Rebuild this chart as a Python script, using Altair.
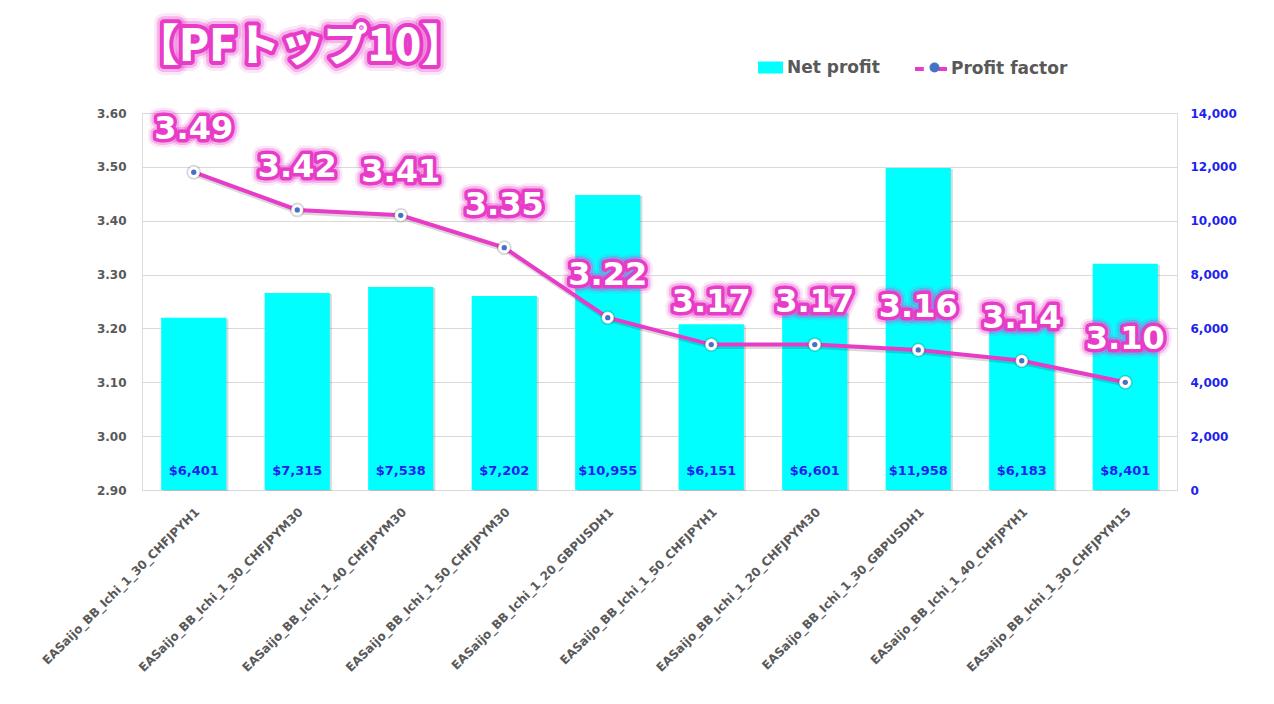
import altair as alt
import pandas as pd

strategies = [
    "EASaijo_BB_Ichi_1_30_CHFJPYH1",
    "EASaijo_BB_Ichi_1_30_CHFJPYM30",
    "EASaijo_BB_Ichi_1_40_CHFJPYM30",
    "EASaijo_BB_Ichi_1_50_CHFJPYM30",
    "EASaijo_BB_Ichi_1_20_GBPUSDH1",
    "EASaijo_BB_Ichi_1_50_CHFJPYH1",
    "EASaijo_BB_Ichi_1_20_CHFJPYM30",
    "EASaijo_BB_Ichi_1_30_GBPUSDH1",
    "EASaijo_BB_Ichi_1_40_CHFJPYH1",
    "EASaijo_BB_Ichi_1_30_CHFJPYM15",
]
net_profit = [6401, 7315, 7538, 7202, 10955, 6151, 6601, 11958, 6183, 8401]
profit_factor = [3.49, 3.42, 3.41, 3.35, 3.22, 3.17, 3.17, 3.16, 3.14, 3.10]
pf_ticks = [2.9, 3.0, 3.1, 3.2, 3.3, 3.4, 3.5, 3.6]
np_ticks = [0, 2000, 4000, 6000, 8000, 10000, 12000, 14000]
title_text = ["【PFトップ10】"]
series_names = ["Net profit", "Profit factor"]
dot_key = ["Profit factor marker"]

MAGENTA = "#E83BC8"
CYAN = "#00FFFF"
BLUE_TXT = "#1F1FEE"
DOT_BLUE = "#4472C4"
GRAY = "#595959"
FONT = "DejaVu Sans"

df = pd.DataFrame({
    "strategy": strategies,
    "net_profit": net_profit,
    "pf": profit_factor,
    "np_label": ["$" + format(v, ",") for v in net_profit],
    "pf_label": [f"{v:.2f}" for v in profit_factor],
    "s1": [series_names[0]] * len(strategies),
    "s2": [series_names[1]] * len(strategies),
    "s3": dot_key * len(strategies),
    "zero": [0] * len(strategies),
})

base = alt.Chart(df)

x_enc = alt.X(
    "strategy:N", sort=strategies, title=None,
    scale=alt.Scale(paddingInner=0.37, paddingOuter=0.185),
    axis=alt.Axis(labelAngle=-45, labelFont=FONT, labelFontSize=12,
                  labelFontWeight="bold", labelColor=GRAY, ticks=False,
                  domainColor="#D9D9D9", labelPadding=16, labelLimit=400),
)

np_scale = alt.Scale(domain=[0, 14000], nice=False)
np_axis = alt.Axis(orient="right", values=np_ticks, title=None,
                   labelExpr="format(datum.value, ',')",
                   labelFont=FONT, labelFontSize=12, labelFontWeight="bold",
                   labelColor=BLUE_TXT, ticks=False, domain=False, grid=False,
                   labelPadding=13)
pf_scale = alt.Scale(domain=[2.9, 3.6], nice=False)
pf_axis = alt.Axis(orient="left", values=pf_ticks, format=".2f", title=None,
                   labelFont=FONT, labelFontSize=12, labelFontWeight="bold",
                   labelColor=GRAY, ticks=False, domain=False, grid=True,
                   gridColor="#D9D9D9", labelPadding=16)

y_np = alt.Y("net_profit:Q", scale=np_scale, axis=np_axis)
y_np0 = alt.Y("zero:Q", scale=np_scale, axis=np_axis)
y_pf = alt.Y("pf:Q", scale=pf_scale, axis=pf_axis)

leg_common = dict(orient="none", title=None, labelFont=FONT, labelFontSize=17,
                  labelFontWeight="bold", padding=0)

bar_shadow = base.mark_bar(color="#000000", opacity=0.15, xOffset=2, yOffset=1).encode(x=x_enc, y=y_np)
bars = base.mark_bar().encode(
    x=x_enc, y=y_np,
    fill=alt.Fill("s1:N", scale=alt.Scale(domain=[series_names[0]], range=[CYAN]),
                  legend=alt.Legend(legendX=616, legendY=-58, symbolType="M-1,-0.48H1V0.48H-1Z",
                                    symbolSize=625, symbolStrokeWidth=0, labelColor=GRAY,
                                    labelOffset=4, **leg_common)),
)
bar_text = base.mark_text(font=FONT, fontSize=13, fontWeight="bold", color=BLUE_TXT,
                          baseline="middle", dy=-19).encode(x=x_enc, y=y_np0, text="np_label:N")
right_group = alt.layer(bar_shadow, bars, bar_text)

line_shadow = base.mark_line(color="#000000", opacity=0.15, strokeWidth=4, yOffset=2.5, xOffset=1).encode(x=x_enc, y=y_pf)
line = base.mark_line(strokeWidth=4).encode(
    x=x_enc, y=y_pf,
    stroke=alt.Stroke("s2:N", scale=alt.Scale(domain=[series_names[1]], range=[MAGENTA]),
                      legend=alt.Legend(legendX=771, legendY=-62, symbolType="M-1,0H-0.45M0.45,0H1",
                                        symbolSize=1024, symbolStrokeWidth=4, labelColor=GRAY,
                                        labelOffset=2, **leg_common)),
)
pt_shadow = base.mark_point(filled=True, color="#000000", opacity=0.15, size=220).encode(x=x_enc, y=y_pf)
pt_white = base.mark_point(filled=True, fill="white", opacity=1, size=140,
                           stroke="#D0D0D0", strokeWidth=0.5).encode(x=x_enc, y=y_pf)
pt_blue = base.mark_point(filled=True, opacity=1, size=28).encode(
    x=x_enc, y=y_pf,
    color=alt.Color("s3:N", scale=alt.Scale(domain=dot_key, range=[DOT_BLUE]),
                    legend=alt.Legend(legendX=784, legendY=-54, symbolStrokeWidth=0,
                                      labelExpr="''", labelColor="rgba(0,0,0,0)",
                                      labelOffset=2, **leg_common)),
)

lbl_kw = dict(font=FONT, fontSize=32, fontWeight="bold", dy=-43, baseline="middle")
glow0 = base.mark_text(fill=MAGENTA, stroke=MAGENTA, strokeWidth=17, strokeOpacity=0.12,
                       strokeJoin="round", **lbl_kw).encode(x=x_enc, y=y_pf, text="pf_label:N")
glow1 = base.mark_text(fill=MAGENTA, stroke=MAGENTA, strokeWidth=12, strokeOpacity=0.3,
                       strokeJoin="round", **lbl_kw).encode(x=x_enc, y=y_pf, text="pf_label:N")
glow2 = base.mark_text(fill=MAGENTA, stroke=MAGENTA, strokeWidth=7, strokeOpacity=1,
                       strokeJoin="round", **lbl_kw).encode(x=x_enc, y=y_pf, text="pf_label:N")
pf_text = base.mark_text(fill="white", **lbl_kw).encode(x=x_enc, y=y_pf, text="pf_label:N")

left_group = alt.layer(line_shadow, line, pt_shadow, pt_white, pt_blue, glow0, glow1, glow2, pf_text)

tdf = pd.DataFrame({"t": title_text})
t_kw = dict(font="Noto Sans CJK JP", fontSize=44, fontWeight=900, align="left", baseline="middle")
tx, ty = alt.value(-7), alt.value(-65)
tglow0 = alt.Chart(tdf).mark_text(fill=MAGENTA, stroke=MAGENTA, strokeWidth=20, strokeOpacity=0.12,
                                  strokeJoin="round", **t_kw).encode(x=tx, y=ty, text="t:N")
tglow1 = alt.Chart(tdf).mark_text(fill=MAGENTA, stroke=MAGENTA, strokeWidth=14, strokeOpacity=0.3,
                                  strokeJoin="round", **t_kw).encode(x=tx, y=ty, text="t:N")
tglow2 = alt.Chart(tdf).mark_text(fill=MAGENTA, stroke=MAGENTA, strokeWidth=8, strokeOpacity=1,
                                  strokeJoin="round", **t_kw).encode(x=tx, y=ty, text="t:N")
ttext = alt.Chart(tdf).mark_text(fill="white", **t_kw).encode(x=tx, y=ty, text="t:N")

chart = alt.layer(right_group, left_group, tglow0, tglow1, tglow2, ttext).resolve_scale(
    y="independent"
).properties(
    width=1035, height=377,
    autosize=alt.AutoSizeParams(type="none"),
    padding={"left": 134, "top": 105, "right": 89, "bottom": 186},
).configure_view(stroke=None).configure(background="white")

chart.save("out.html", embed_options={"renderer": "svg", "actions": False})
